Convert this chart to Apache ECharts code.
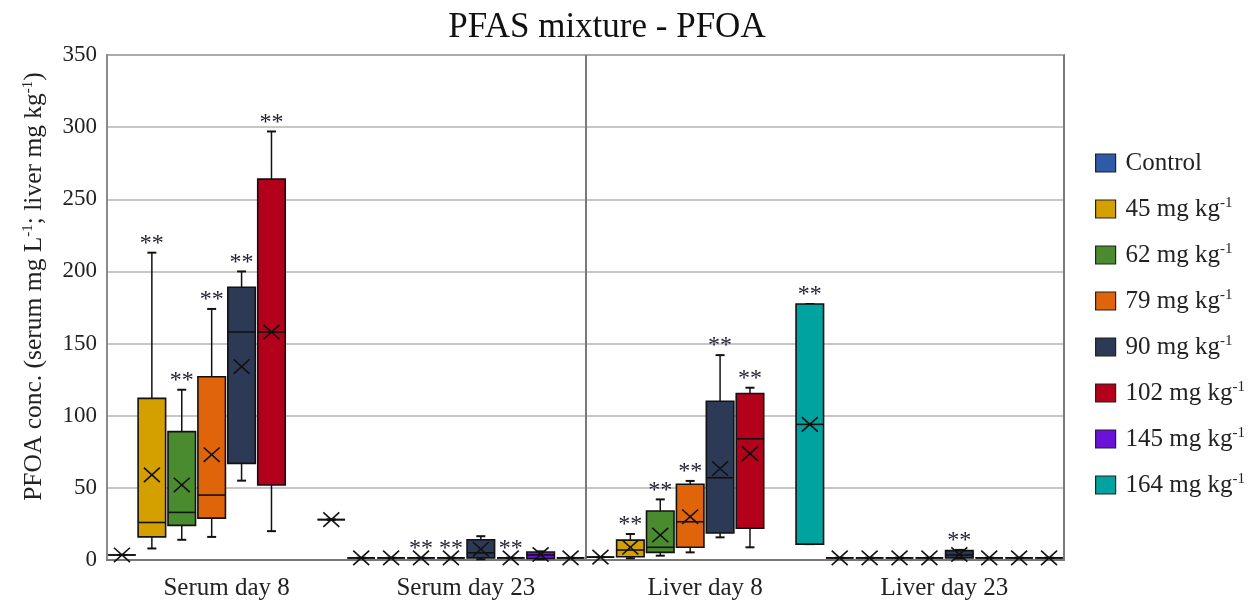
<!DOCTYPE html>
<html>
<head>
<meta charset="utf-8">
<title>PFAS mixture - PFOA</title>
<script src="https://cdn.jsdelivr.net/npm/echarts@6/dist/echarts.min.js"></script>
<style>
  html, body { margin: 0; padding: 0; background: #fff; }
  #chart { width: 1258px; height: 605px; }
</style>
</head>
<body>
<div id="chart"></div>
<script>
const groups = ['Serum day 8', 'Serum day 23', 'Liver day 8', 'Liver day 23'];
const tissues = ['Serum', 'Liver'];
const doses = ['Control', '45 mg kg-1', '62 mg kg-1', '79 mg kg-1', '90 mg kg-1', '102 mg kg-1', '145 mg kg-1', '164 mg kg-1'];
const colors = ['#2e5aa8', '#d4a000', '#4b8b2f', '#e0640a', '#2d3a55', '#b3001b', '#6a12d9', '#00a3a0'];
const yTicks = { min: 0, max: 350, step: 50 };

// one entry per group: [min, Q1, median, Q3, max, mean]; null = dose not in that group
const control = [[3.5, 3.5, 3.5, 3.5, 3.5, 3.5], [1.5, 1.5, 1.5, 1.5, 1.5, 1.5], [2, 2, 2, 2, 2, 2], [1.5, 1.5, 1.5, 1.5, 1.5, 1.5]];
const d45 = [[8, 16, 26, 112, 213, 59], [1.5, 1.5, 1.5, 1.5, 1.5, 1.5], [1.2, 2.3, 6.9, 13.8, 18, 8.8], [1.5, 1.5, 1.5, 1.5, 1.5, 1.5]];
const d62 = [[14, 24, 33, 89, 118, 52], [1.5, 1.5, 1.5, 1.5, 1.5, 1.5], [3, 5.3, 8.8, 34, 42, 17.3], [1.5, 1.5, 1.5, 1.5, 1.5, 1.5]];
const d79 = [[16, 29, 45, 127, 174, 73], [1.5, 1.5, 1.5, 1.5, 1.5, 1.5], [5.3, 8.8, 26.5, 52.5, 54.8, 30], [1.5, 1.5, 1.5, 1.5, 1.5, 1.5]];
const d90 = [[55, 67, 158, 189, 200, 134], [0.5, 1.5, 5, 14, 16.5, 7.5], [15.7, 18.7, 57, 110, 142, 63.4], [1, 1.5, 3.5, 6.5, 7, 3.8]];
const d102 = [[20, 52, 158, 264, 297, 158], [1.5, 1.5, 1.5, 1.5, 1.5, 1.5], [8.8, 22, 84, 115.4, 119.4, 73.7], [1.5, 1.5, 1.5, 1.5, 1.5, 1.5]];
const d145 = [null, [0.5, 1, 3.5, 5.5, 6, 3.8], null, [1.5, 1.5, 1.5, 1.5, 1.5, 1.5]];
const d164 = [[28, 28, 28, 28, 28, 28], [1.5, 1.5, 1.5, 1.5, 1.5, 1.5], [11, 11, 94, 177.4, 177.4, 94], [1.5, 1.5, 1.5, 1.5, 1.5, 1.5]];

// ** (significant vs control), one flag per group
const sigControl = [0, 0, 0, 0];
const sig45 = [1, 0, 1, 0];
const sig62 = [1, 1, 1, 0];
const sig79 = [1, 1, 1, 0];
const sig90 = [1, 0, 1, 1];
const sig102 = [1, 1, 1, 0];
const sig145 = [0, 0, 0, 0];
const sig164 = [0, 0, 1, 0];

const boxData = [control, d45, d62, d79, d90, d102, d145, d164];
const sigData = [sigControl, sig45, sig62, sig79, sig90, sig102, sig145, sig164];

const serif = '"Liberation Serif", "Times New Roman", serif';
const perGroup = doses.length;
const slots = [];
groups.forEach(g => doses.forEach(d => slots.push(g + ' | ' + d)));

function renderBox(params, api) {
  const slot = api.value(0);
  const x = api.coord([slot, 0])[0];
  const y = [1, 2, 3, 4, 5, 6].map(i => api.coord([slot, api.value(i)])[1]);
  const half = api.size([1, 0])[0] * 0.46;
  const cap = 4.5;
  const m = 8;
  const line = (x1, y1, x2, y2, w) => ({
    type: 'line',
    shape: { x1, y1, x2, y2 },
    style: { stroke: '#111', lineWidth: w || 1.5 }
  });
  const children = [
    line(x, y[4], x, y[3]),
    line(x, y[0], x, y[1]),
    line(x - cap, y[4], x + cap, y[4], 2),
    line(x - cap, y[0], x + cap, y[0], 2),
    {
      type: 'rect',
      shape: { x: x - half, y: y[3], width: half * 2, height: y[1] - y[3] },
      style: { fill: api.visual('color'), stroke: '#111', lineWidth: 1.6 }
    },
    line(x - half, y[2], x + half, y[2], 1.6),
    line(x - m, y[5] - m * 0.9, x + m, y[5] + m * 0.9, 1.6),
    line(x - m, y[5] + m * 0.9, x + m, y[5] - m * 0.9, 1.6)
  ];
  if (api.value(7)) {
    children.push({
      type: 'text',
      x: x,
      y: y[4] - 9,
      style: { text: '**', fill: '#223', fontSize: 24, fontFamily: serif, align: 'center', verticalAlign: 'middle' }
    });
  }
  return { type: 'group', children };
}

const series = doses.map((name, d) => ({
  name,
  type: 'custom',
  xAxisIndex: 0,
  yAxisIndex: 0,
  itemStyle: { color: colors[d] },
  encode: { x: 0, y: [1, 2, 3, 4, 5, 6] },
  renderItem: renderBox,
  z: 3,
  data: boxData[d]
    .map((s, g) => (s ? [g * perGroup + d, ...s, sigData[d][g]] : null))
    .filter(Boolean)
}));

const withSup = s => s.replace(/-1/g, '{sup|-1}');

const chart = echarts.init(document.getElementById('chart'));
chart.setOption({
  animation: false,
  backgroundColor: '#fff',
  title: {
    text: 'PFAS mixture - PFOA',
    left: 602,
    textAlign: 'center',
    top: 5,
    textStyle: { fontFamily: serif, fontSize: 35, fontWeight: 'normal', color: '#111' }
  },
  legend: {
    orient: 'vertical',
    left: 1095,
    top: 150,
    padding: 0,
    icon: 'rect',
    itemWidth: 20,
    itemHeight: 18,
    itemGap: 20,
    data: doses,
    itemStyle: { borderColor: '#222', borderWidth: 1.2 },
    formatter: withSup,
    textStyle: {
      fontFamily: serif, fontSize: 25, color: '#222', lineHeight: 26, padding: [0, 0, 0, 5],
      rich: { sup: { fontSize: 15, verticalAlign: 'top', fontFamily: serif, color: '#222' } }
    }
  },
  grid: {
    left: 107, right: 194, top: 55, bottom: 45,
    show: true, borderColor: '#8a8a8a', borderWidth: 2,
    outerBoundsMode: 'none'
  },
  xAxis: [
    {
      type: 'category', data: slots, gridIndex: 0,
      axisLine: { show: true, lineStyle: { color: '#777', width: 2 } },
      axisTick: { show: false }, axisLabel: { show: false }, splitLine: { show: false }
    },
    {
      type: 'category', data: groups, gridIndex: 0, position: 'bottom',
      axisLine: { show: false }, axisTick: { show: false }, splitLine: { show: false },
      axisLabel: { fontFamily: serif, fontSize: 25, color: '#222', margin: 16 }
    },
    {
      type: 'category', data: tissues, gridIndex: 0, position: 'bottom',
      axisLine: { show: false }, axisTick: { show: false }, axisLabel: { show: false },
      splitLine: { show: true, lineStyle: { color: '#7a7a7a', width: 2 } }
    }
  ],
  yAxis: {
    type: 'value',
    min: yTicks.min, max: yTicks.max, interval: yTicks.step,
    name: withSup('PFOA conc. (serum mg L-1; liver mg kg-1)'),
    nameLocation: 'middle',
    nameRotate: 90,
    nameGap: 60,
    nameTextStyle: {
      fontFamily: serif, fontSize: 25.5, color: '#222', padding: [0, 0, 0, 42],
      rich: { sup: { fontSize: 15, verticalAlign: 'top', fontFamily: serif, color: '#222' } }
    },
    axisLine: { show: true, lineStyle: { color: '#8a8a8a', width: 2 } },
    axisTick: { show: false },
    axisLabel: { fontFamily: serif, fontSize: 23, color: '#222', margin: 10 },
    splitLine: { lineStyle: { color: '#b4b4b4', width: 1.5 } }
  },
  series
});
</script>
</body>
</html>
